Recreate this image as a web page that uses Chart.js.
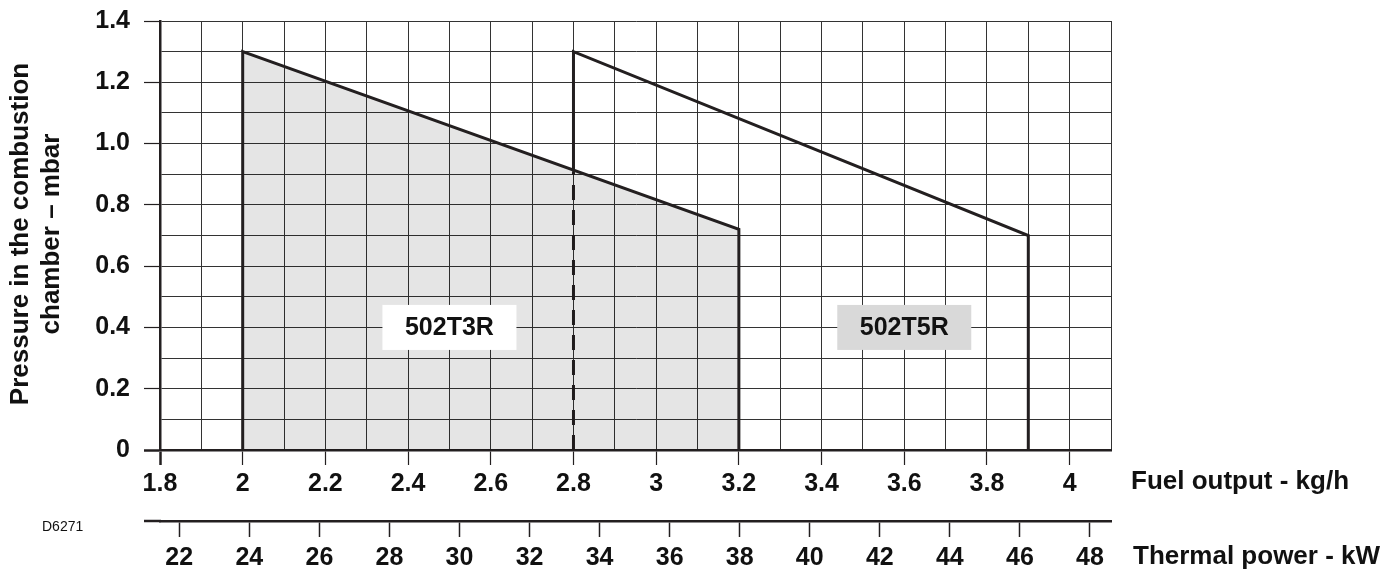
<!DOCTYPE html>
<html>
<head>
<meta charset="utf-8">
<title>502T3R / 502T5R firing range</title>
<script src="https://cdn.jsdelivr.net/npm/chart.js@4/dist/chart.umd.min.js"></script>
<style>
  html, body { margin: 0; padding: 0; background: #fff; }
  #wrap { width: 1384px; height: 571px; position: relative; }
</style>
</head>
<body>
<div id="wrap"><canvas id="range"></canvas></div>
<script>
// firing range of the two burner models (fuel output kg/h vs pressure mbar)
const t3rFuel     = [2.0, 2.0, 3.2, 3.2];
const t3rPressure = [0, 1.3, 0.72, 0];
const t5rFuel     = [2.8, 2.8, 3.9, 3.9];
const t5rPressure = [0.91, 1.3, 0.70, 0];
// part of the 502T5R edge hidden behind the 502T3R area
const t5rHiddenFuel     = [2.8, 2.8];
const t5rHiddenPressure = [0, 0.91];

const regionNames = ['502T3R', '502T5R'];
const fuelTicks     = [1.8, 2.0, 2.2, 2.4, 2.6, 2.8, 3.0, 3.2, 3.4, 3.6, 3.8, 4.0];
const pressureTicks = [0, 0.2, 0.4, 0.6, 0.8, 1.0, 1.2, 1.4];
const powerTicks    = [22, 24, 26, 28, 30, 32, 34, 36, 38, 40, 42, 44, 46, 48];

const FONT = '"Liberation Sans", Arial, Helvetica, sans-serif';
const INK = '#111';
const LINE = '#231f20';

function pts(xs, ys) {
  return xs.map((v, i) => ({ x: v, y: ys[i] }));
}
function inList(list, v) {
  return list.some(t => Math.abs(t - v) < 1e-6);
}

const extras = {
  id: 'extras',
  afterDatasetsDraw(chart) {
    const { ctx, scales: { x, y } } = chart;
    const anchors = [[2.5, 0.4], [3.6, 0.4]];
    const fills = ['#ffffff', '#d9d9d9'];
    ctx.save();
    regionNames.forEach((name, i) => {
      const px = x.getPixelForValue(anchors[i][0]);
      const py = y.getPixelForValue(anchors[i][1]);
      ctx.fillStyle = fills[i];
      ctx.fillRect(px - 67, py - 22.5, 134, 45);
      ctx.fillStyle = INK;
      ctx.font = 'bold 25px ' + FONT;
      ctx.textAlign = 'center';
      ctx.textBaseline = 'middle';
      ctx.fillText(name, px, py + 1);
    });
    ctx.restore();
  },
  afterDraw(chart) {
    const { ctx, chartArea, scales: { x2 } } = chart;
    ctx.save();
    // second axis line reaches out to the y tick marks
    ctx.strokeStyle = LINE;
    ctx.lineWidth = 2.5;
    ctx.beginPath();
    ctx.moveTo(chartArea.left - 16, x2.top);
    ctx.lineTo(chartArea.left + 1, x2.top);
    ctx.stroke();

    ctx.fillStyle = INK;
    ctx.font = 'bold 26px ' + FONT;
    ctx.textAlign = 'left';
    ctx.textBaseline = 'middle';
    ctx.fillText('Fuel output - kg/h', chartArea.right + 20, 482);
    ctx.fillText('Thermal power - kW', chartArea.right + 22, 557);

    ctx.font = '14px ' + FONT;
    ctx.fillText('D6271', 42, 527);

    ctx.font = 'bold 26px ' + FONT;
    ctx.textAlign = 'center';
    ctx.translate(0, 234);
    ctx.rotate(-Math.PI / 2);
    ctx.fillText('Pressure in the combustion', 0, 21);
    ctx.fillText('chamber \u2013 mbar', 0, 52);
    ctx.restore();
  }
};

new Chart(document.getElementById('range'), {
  type: 'scatter',
  data: {
    datasets: [{
      label: '502T3R',
      data: pts(t3rFuel, t3rPressure),
      showLine: true,
      fill: 'origin',
      backgroundColor: 'rgba(0,0,0,0.1)',
      borderColor: LINE,
      borderWidth: 3,
      pointRadius: 0,
      tension: 0
    }, {
      label: '502T5R',
      data: pts(t5rFuel, t5rPressure),
      showLine: true,
      fill: false,
      borderColor: LINE,
      borderWidth: 3,
      pointRadius: 0,
      tension: 0
    }, {
      label: '502T5R hidden',
      data: pts(t5rHiddenFuel, t5rHiddenPressure),
      showLine: true,
      fill: false,
      borderColor: LINE,
      borderWidth: 3,
      borderDash: [15, 10],
      pointRadius: 0
    }]
  },
  options: {
    responsive: true,
    maintainAspectRatio: false,
    animation: false,
    layout: { padding: { top: 21, right: 273, left: 0, bottom: 0 } },
    plugins: {
      legend: { display: false },
      tooltip: { enabled: false }
    },
    scales: {
      x: {
        type: 'linear',
        position: 'bottom',
        min: 1.8,
        max: 4.1,
        weight: 0,
        afterFit: s => { s.height = 71; s.paddingLeft = 0; s.paddingRight = 0; },
        border: { color: LINE, width: 2.5 },
        grid: {
          color: '#333',
          lineWidth: 1,
          tickLength: 15,
          tickColor: c => inList(fuelTicks, c.tick.value) ? LINE : 'rgba(0,0,0,0)',
          tickWidth: c => c.index === 0 ? 2.5 : 1.2
        },
        ticks: {
          stepSize: 0.1,
          autoSkip: false,
          maxRotation: 0,
          padding: 4,
          color: INK,
          font: { family: FONT, size: 25, weight: 'bold' },
          callback: v => inList(fuelTicks, v) ? String(Math.round(v * 10) / 10) : ''
        }
      },
      x2: {
        type: 'linear',
        position: 'bottom',
        min: 21.45,
        max: 48.6,
        weight: 1,
        afterBuildTicks: s => { s.ticks = powerTicks.map(v => ({ value: v })); },
        afterFit: s => { s.height = 50; s.paddingLeft = 0; s.paddingRight = 0; },
        border: { color: LINE, width: 2.5 },
        grid: {
          drawOnChartArea: false,
          tickLength: 16,
          tickColor: LINE,
          tickWidth: 1.5
        },
        ticks: {
          autoSkip: false,
          maxRotation: 0,
          padding: 6,
          color: INK,
          font: { family: FONT, size: 25, weight: 'bold' }
        }
      },
      y: {
        type: 'linear',
        min: 0,
        max: 1.4,
        afterFit: s => { s.width = 160; s.paddingTop = 0; s.paddingBottom = 0; },
        border: { color: LINE, width: 2.5 },
        grid: {
          color: '#333',
          lineWidth: 1,
          tickLength: 16,
          tickColor: c => inList(pressureTicks, c.tick.value) ? LINE : 'rgba(0,0,0,0)',
          tickWidth: c => c.index === 0 ? 2.5 : 1.2
        },
        ticks: {
          stepSize: 0.1,
          autoSkip: false,
          padding: 14,
          color: INK,
          font: { family: FONT, size: 25, weight: 'bold' },
          callback: v => inList(pressureTicks, v) ? (v === 0 ? '0' : v.toFixed(1)) : ''
        }
      }
    }
  },
  plugins: [extras]
});
</script>
</body>
</html>
